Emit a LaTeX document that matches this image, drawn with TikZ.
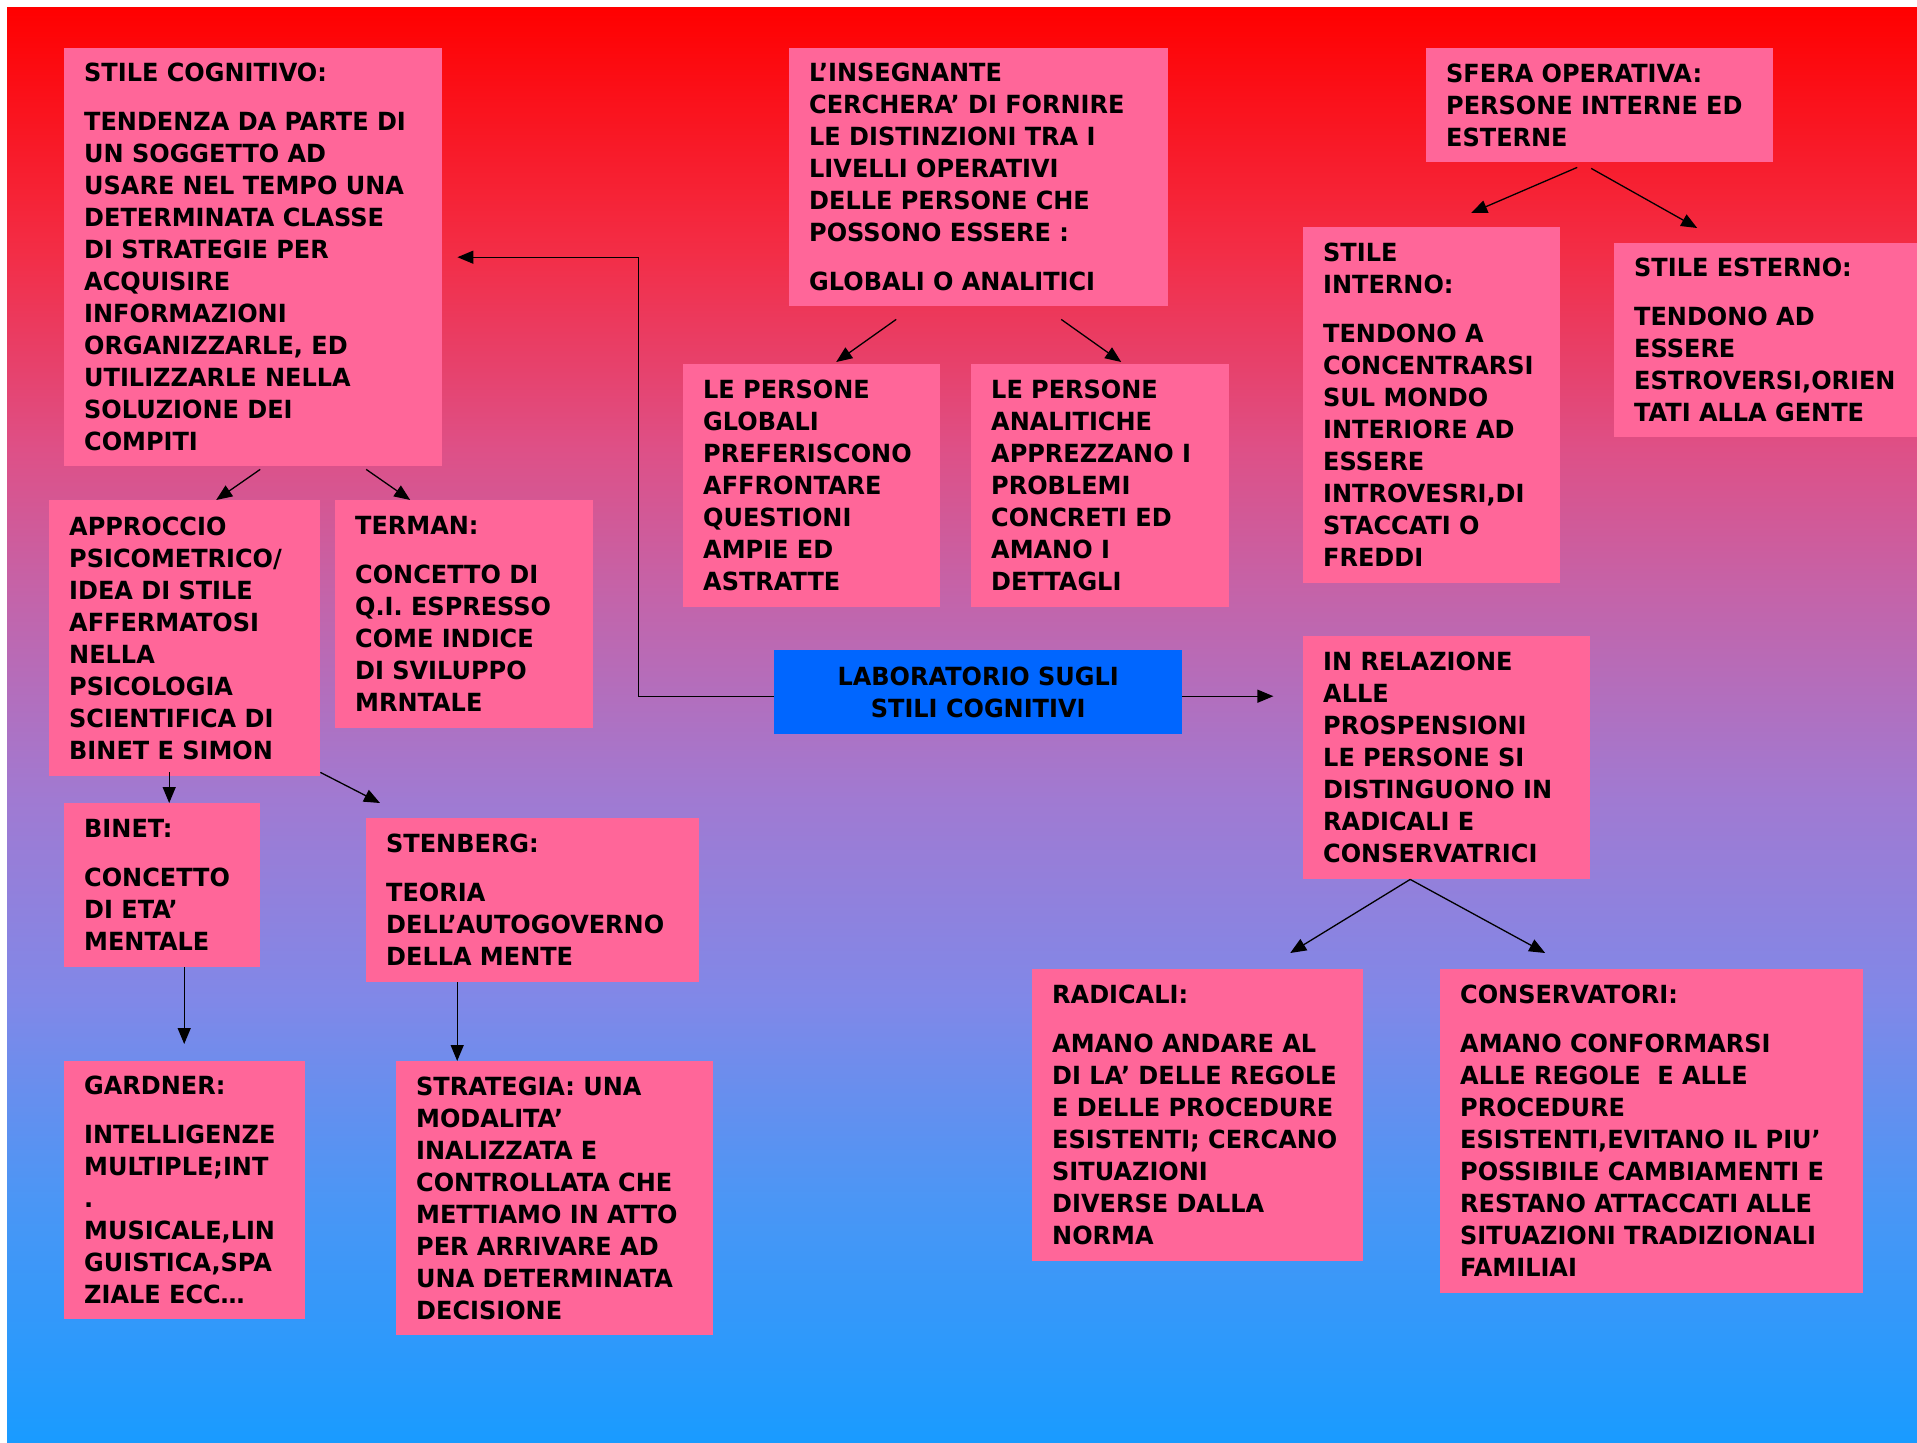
\documentclass[tikz,border=0pt]{standalone}
\usepackage{fontspec}
\setmainfont{DejaVu Sans}[FakeStretch=0.96]
\usetikzlibrary{arrows.meta}

\definecolor{boxpink}{HTML}{FF6699}
\definecolor{labblue}{HTML}{0066FF}
\definecolor{bgzero}{RGB}{25,155,255}
\definecolor{bgone}{RGB}{75,150,245}
\definecolor{bgtwo}{RGB}{128,136,232}
\definecolor{bgthree}{RGB}{160,122,210}
\definecolor{bgfour}{RGB}{195,100,170}
\definecolor{bgfive}{RGB}{222,80,135}
\definecolor{bgsix}{RGB}{243,45,70}
\definecolor{bgseven}{RGB}{255,0,0}
\pgfdeclareverticalshading{bgfade}{100bp}{color(0bp)=(bgzero); color(25bp)=(bgzero);
  color(33.5bp)=(bgone); color(40.4bp)=(bgtwo); color(47.4bp)=(bgthree);
  color(54.4bp)=(bgfour); color(59.6bp)=(bgfive); color(66.5bp)=(bgsix);
  color(75bp)=(bgseven); color(100bp)=(bgseven)}

\begin{document}
\begin{tikzpicture}[x=1pt,y=-1pt,
    card/.style={fill=boxpink, anchor=north west, inner xsep=20pt, inner ysep=0pt,
      align=left, font=\bfseries\fontsize{25}{32}\selectfont},
    link/.style={-{Triangle[length=16pt,width=13pt]}, line width=1.3pt}]
    \useasboundingbox (0,0) rectangle (1917,1443);
    \shade[shading=bgfade] (7,7) rectangle (1917,1443);

    % top row
    \node[card, text width=338pt, minimum height=418pt] (cog) at (64,48)
      {STILE COGNITIVO:\\[17pt] TENDENZA DA PARTE DI\\ UN SOGGETTO AD\\ USARE NEL TEMPO UNA\\
       DETERMINATA CLASSE\\ DI STRATEGIE PER\\ ACQUISIRE\\ INFORMAZIONI\\
       ORGANIZZARLE, ED\\ UTILIZZARLE NELLA\\ SOLUZIONE DEI\\ COMPITI};
    \node[card, text width=339pt, minimum height=258pt] (ins) at (789,48)
      {L’INSEGNANTE\\ CERCHERA’ DI FORNIRE\\ LE DISTINZIONI TRA I\\ LIVELLI OPERATIVI\\
       DELLE PERSONE CHE\\ POSSONO ESSERE :\\[17pt] GLOBALI O ANALITICI};
    \node[card, text width=307pt, minimum height=114pt] (sfera) at (1426,48)
      {SFERA OPERATIVA:\\ PERSONE INTERNE ED\\ ESTERNE};

    % second row
    \node[card, text width=217pt, minimum height=243pt] (glob) at (683,364)
      {LE PERSONE\\ GLOBALI\\ PREFERISCONO\\ AFFRONTARE\\ QUESTIONI\\ AMPIE ED\\ ASTRATTE};
    \node[card, text width=218pt, minimum height=243pt] (anal) at (971,364)
      {LE PERSONE\\ ANALITICHE\\ APPREZZANO I\\ PROBLEMI\\ CONCRETI ED\\ AMANO I\\ DETTAGLI};
    \node[card, text width=217pt, minimum height=356pt] (int) at (1303,227)
      {STILE\\ INTERNO:\\[17pt] TENDONO A\\ CONCENTRARSI\\ SUL MONDO\\ INTERIORE AD\\
       ESSERE\\ INTROVESRI,DI\\ STACCATI O\\ FREDDI};
    \node[card, text width=290pt, minimum height=194pt] (est) at (1614,243)
      {STILE ESTERNO:\\[17pt] TENDONO AD\\ ESSERE\\ ESTROVERSI,ORIEN\\ TATI ALLA GENTE};
    \node[card, text width=231pt, minimum height=276pt] (appr) at (49,500)
      {APPROCCIO\\ PSICOMETRICO/\\ IDEA DI STILE\\ AFFERMATOSI\\ NELLA\\ PSICOLOGIA\\
       SCIENTIFICA DI\\ BINET E SIMON};
    \node[card, text width=218pt, minimum height=228pt] (term) at (335,500)
      {TERMAN:\\[17pt] CONCETTO DI\\ Q.I. ESPRESSO\\ COME INDICE\\ DI SVILUPPO\\ MRNTALE};

    % centre
    \node[card, fill=labblue, align=center, minimum width=408pt, minimum height=84pt] (lab) at (774,650)
      {LABORATORIO SUGLI\\ STILI COGNITIVI};
    \node[card, text width=247pt, minimum height=243pt] (rel) at (1303,636)
      {IN RELAZIONE\\ ALLE\\ PROSPENSIONI\\ LE PERSONE SI\\ DISTINGUONO IN\\ RADICALI E\\
       CONSERVATRICI};

    % lower rows
    \node[card, text width=156pt, minimum height=164pt] (binet) at (64,803)
      {BINET:\\[17pt] CONCETTO\\ DI ETA’\\ MENTALE};
    \node[card, text width=293pt, minimum height=164pt] (sten) at (366,818)
      {STENBERG:\\[17pt] TEORIA\\ DELL’AUTOGOVERNO\\ DELLA MENTE};
    \node[card, text width=201pt, minimum height=258pt] (gard) at (64,1061)
      {GARDNER:\\[17pt] INTELLIGENZE\\ MULTIPLE;INT\\ .\\ MUSICALE,LIN\\ GUISTICA,SPA\\ ZIALE ECC…};
    \node[card, text width=277pt, minimum height=274pt] (strat) at (396,1061)
      {STRATEGIA: UNA\\ MODALITA’\\ INALIZZATA E\\ CONTROLLATA CHE\\ METTIAMO IN ATTO\\
       PER ARRIVARE AD\\ UNA DETERMINATA\\ DECISIONE};
    \node[card, text width=291pt, minimum height=292pt] (rad) at (1032,969)
      {RADICALI:\\[17pt] AMANO ANDARE AL\\ DI LA’ DELLE REGOLE\\ E DELLE PROCEDURE\\
       ESISTENTI; CERCANO\\ SITUAZIONI\\ DIVERSE DALLA\\ NORMA};
    \node[card, text width=383pt, minimum height=324pt] (cons) at (1440,969)
      {CONSERVATORI:\\[17pt] AMANO CONFORMARSI\\ ALLE REGOLE \ E ALLE\\ PROCEDURE\\
       ESISTENTI,EVITANO IL PIU’\\ POSSIBILE CAMBIAMENTI E\\ RESTANO ATTACCATI ALLE\\
       SITUAZIONI TRADIZIONALI\\ FAMILIAI};

    % connectors
    \draw[link] ([xshift=7pt,yshift=-3pt]cog.south) -- ([xshift=31.5pt]appr.north);
    \draw[link] ([xshift=113pt,yshift=-3pt]cog.south) -- ([xshift=-54pt]term.north);
    \draw[link] ([xshift=-82.5pt,yshift=-13pt]ins.south) -- ([xshift=24.5pt,yshift=2pt]glob.north);
    \draw[link] ([xshift=82.5pt,yshift=-13pt]ins.south) -- ([xshift=21pt,yshift=2pt]anal.north);
    \draw[link] ([xshift=-22.5pt,yshift=-5pt]sfera.south) -- ([xshift=39.5pt,yshift=14pt]int.north);
    \draw[link] ([xshift=-8.5pt,yshift=-6pt]sfera.south) -- ([xshift=-82pt,yshift=15pt]est.north);
    \draw[link] ([xshift=-15.5pt,yshift=4pt]appr.south) -- ([xshift=7pt]binet.north);
    \draw[link] ([yshift=4pt]appr.south east) -- ([xshift=14pt,yshift=15pt]sten.north west);
    \draw[link] ([xshift=22pt]binet.south) -- ([xshift=-0.5pt,yshift=17pt]gard.north);
    \draw[link] ([xshift=-75.5pt]sten.south) -- ([xshift=-97.5pt]strat.north);
    \draw[link] ([yshift=-4pt]lab.west) -| ([xshift=196pt]cog.east) -- ([xshift=15pt]cog.east);
    \draw[link] ([yshift=-4pt]lab.east) -- ++(91,0);
    \draw[link] ([xshift=-36.5pt]rel.south) -- ([xshift=92.5pt,yshift=16pt]rad.north);
    \draw[link] ([xshift=-36.5pt]rel.south) -- ([xshift=-106.5pt,yshift=16pt]cons.north);
\end{tikzpicture}
\end{document}
